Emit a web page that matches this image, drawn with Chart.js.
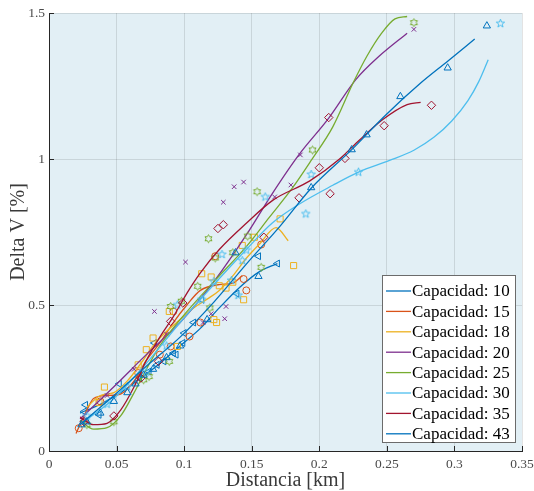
<!DOCTYPE html>
<html>
<head>
<meta charset="utf-8">
<script src="https://cdn.jsdelivr.net/npm/chart.js@4.4.1/dist/chart.umd.min.js"></script>
<style>
  html, body { margin: 0; padding: 0; background: #fff; }
  #wrap { width: 534px; height: 491px; }
</style>
</head>
<body>
<div id="wrap"><canvas id="chart" width="534" height="491"></canvas></div>
<script>
const capacities = [10, 15, 18, 20, 25, 30, 35, 43];
const colors = ["#0072BD", "#D95319", "#EDB120", "#7E2F8E", "#77AC30", "#4DBEEE", "#A2142F", "#0072BD"];

const xTicks = [0, 0.05, 0.1, 0.15, 0.2, 0.25, 0.3, 0.35];
const xTickLabels = ["0", "0.05", "0.1", "0.15", "0.2", "0.25", "0.3", "0.35"];
const yTicks = [0, 0.5, 1, 1.5];
const yTickLabels = ["0", "0.5", "1", "1.5"];

// medidas [distancia km, delta V %]
const pts10 = [[0.026,0.135],[0.027,0.158],[0.037,0.124],[0.052,0.23],[0.067,0.25],[0.074,0.272],[0.078,0.37],[0.080,0.295],[0.085,0.307],[0.092,0.335],[0.094,0.33],[0.099,0.37],[0.100,0.404],[0.107,0.44],[0.113,0.518],[0.139,0.539],[0.155,0.667],[0.169,0.642]];
const pts15 = [[0.022,0.078],[0.038,0.17],[0.066,0.267],[0.082,0.33],[0.090,0.358],[0.092,0.478],[0.104,0.392],[0.112,0.44],[0.123,0.667],[0.144,0.589],[0.146,0.55],[0.157,0.707]];
const pts18 = [[0.037,0.166],[0.041,0.219],[0.066,0.295],[0.072,0.347],[0.077,0.387],[0.089,0.478],[0.095,0.358],[0.113,0.607],[0.120,0.596],[0.122,0.45],[0.124,0.44],[0.126,0.566],[0.131,0.558],[0.136,0.578],[0.143,0.704],[0.144,0.518],[0.152,0.732],[0.171,0.795],[0.181,0.635]];
const pts20 = [[0.025,0.11],[0.043,0.19],[0.063,0.28],[0.078,0.478],[0.087,0.40],[0.101,0.647],[0.114,0.44],[0.120,0.47],[0.130,0.453],[0.131,0.495],[0.129,0.852],[0.137,0.905],[0.144,0.921],[0.167,0.870],[0.179,0.911],[0.186,1.014],[0.270,1.444]];
const pts25 = [[0.028,0.09],[0.048,0.1],[0.070,0.244],[0.074,0.255],[0.089,0.307],[0.090,0.495],[0.098,0.513],[0.110,0.564],[0.118,0.727],[0.119,0.49],[0.123,0.661],[0.136,0.679],[0.147,0.736],[0.154,0.888],[0.157,0.629],[0.195,1.031],[0.270,1.467]];
const pts30 = [[0.028,0.12],[0.043,0.16],[0.058,0.22],[0.072,0.27],[0.087,0.36],[0.095,0.50],[0.113,0.518],[0.122,0.58],[0.128,0.673],[0.135,0.584],[0.140,0.533],[0.143,0.652],[0.146,0.688],[0.160,0.870],[0.190,0.812],[0.194,0.947],[0.229,0.955],[0.334,1.464]];
const pts35 = [[0.026,0.1],[0.048,0.12],[0.068,0.25],[0.081,0.307],[0.090,0.444],[0.099,0.507],[0.125,0.762],[0.129,0.775],[0.159,0.732],[0.185,0.867],[0.200,0.970],[0.208,0.881],[0.207,1.142],[0.219,1.002],[0.248,1.114],[0.283,1.184]];
const pts43 = [[0.024,0.09],[0.028,0.1],[0.038,0.13],[0.048,0.17],[0.058,0.2],[0.064,0.23],[0.070,0.26],[0.077,0.28],[0.087,0.32],[0.097,0.36],[0.117,0.45],[0.138,0.679],[0.155,0.598],[0.194,0.902],[0.224,1.032],[0.235,1.083],[0.260,1.214],[0.295,1.312],[0.324,1.456]];

// curvas de ajuste
const fit10 = [[0.023,0.13],[0.038,0.16],[0.053,0.2],[0.068,0.25],[0.082,0.3],[0.097,0.36],[0.112,0.42],[0.126,0.49],[0.141,0.56],[0.156,0.615],[0.169,0.642]];
const fit15 = [[0.020,0.06],[0.028,0.14],[0.033,0.18],[0.043,0.19],[0.053,0.195],[0.063,0.24],[0.072,0.31],[0.082,0.37],[0.092,0.44],[0.102,0.5],[0.112,0.55],[0.126,0.57],[0.136,0.575],[0.143,0.60]];
const fit18 = [[0.028,0.15],[0.038,0.19],[0.048,0.2],[0.058,0.24],[0.068,0.3],[0.077,0.36],[0.087,0.41],[0.097,0.45],[0.107,0.49],[0.117,0.52],[0.126,0.55],[0.136,0.6],[0.146,0.66],[0.156,0.71],[0.168,0.765],[0.177,0.72]];
const fit20 = [[0.023,0.11],[0.048,0.22],[0.072,0.33],[0.097,0.44],[0.122,0.58],[0.146,0.74],[0.165,0.88],[0.185,1.015],[0.207,1.14],[0.227,1.272],[0.244,1.351],[0.265,1.431]];
const fit25 = [[0.023,0.105],[0.033,0.075],[0.043,0.08],[0.053,0.12],[0.063,0.2],[0.072,0.28],[0.082,0.36],[0.097,0.45],[0.122,0.58],[0.146,0.70],[0.163,0.80],[0.18,0.90],[0.194,0.995],[0.210,1.11],[0.225,1.26],[0.235,1.35],[0.246,1.43],[0.256,1.48],[0.265,1.488]];
const fit30 = [[0.023,0.09],[0.048,0.18],[0.072,0.3],[0.097,0.44],[0.122,0.57],[0.146,0.69],[0.165,0.78],[0.185,0.845],[0.21,0.91],[0.229,0.955],[0.252,0.995],[0.27,1.03],[0.285,1.075],[0.298,1.13],[0.31,1.2],[0.318,1.265],[0.325,1.34]];
const fit35 = [[0.023,0.115],[0.033,0.09],[0.043,0.095],[0.053,0.14],[0.063,0.22],[0.072,0.31],[0.082,0.39],[0.092,0.46],[0.102,0.54],[0.112,0.61],[0.126,0.69],[0.146,0.78],[0.166,0.86],[0.193,0.925],[0.215,1.0],[0.230,1.066],[0.247,1.135],[0.265,1.186],[0.275,1.194]];
const fit43 = [[0.023,0.09],[0.048,0.19],[0.072,0.29],[0.097,0.39],[0.122,0.51],[0.146,0.64],[0.171,0.77],[0.194,0.90],[0.224,1.032],[0.249,1.15],[0.275,1.26],[0.295,1.335],[0.315,1.411]];

const FONT = "'Liberation Serif', 'Times New Roman', serif";

// marcadores estrella dibujados a mano (hexagrama y pentagrama)
function starMarker(color, points, outer, inner) {
    let c = document.createElement("canvas");
    c.width = 11; c.height = 11;
    let g = c.getContext("2d");
    g.translate(5.5, 5.5);
    g.strokeStyle = color;
    g.lineWidth = 1;
    g.beginPath();
    for (let k = 0; k < points * 2; k++) {
        let r = k % 2 === 0 ? outer : inner;
        let a = -Math.PI / 2 + k * Math.PI / points;
        g.lineTo(r * Math.cos(a), r * Math.sin(a));
    }
    g.closePath();
    g.stroke();
    return c;
}

const series = [
    { pts: pts10, fit: fit10, style: "triangle", rot: -90, r: 4 },
    { pts: pts15, fit: fit15, style: "circle", rot: 0, r: 3.5 },
    { pts: pts18, fit: fit18, style: "rect", rot: 0, r: 4.3 },
    { pts: pts20, fit: fit20, style: "crossRot", rot: 0, r: 3.2 },
    { pts: pts25, fit: fit25, style: starMarker(colors[4], 6, 4, 2.3), rot: 0, r: 4 },
    { pts: pts30, fit: fit30, style: starMarker(colors[5], 5, 4.4, 1.8), rot: 0, r: 4 },
    { pts: pts35, fit: fit35, style: "rectRot", rot: 0, r: 4.2 },
    { pts: pts43, fit: fit43, style: "triangle", rot: 0, r: 4.2 }
];

const toXY = arr => arr.map(p => ({ x: p[0], y: p[1] }));

let datasets = [];
series.forEach((s, i) => {
    datasets.push({
        label: "pts" + capacities[i],
        data: toXY(s.pts),
        showLine: false,
        pointStyle: s.style,
        pointRotation: s.rot,
        pointRadius: s.r,
        pointBorderWidth: 1,
        pointBorderColor: colors[i],
        pointBackgroundColor: "rgba(0,0,0,0)",
        order: 100 - 2 * i
    });
    datasets.push({
        label: "Capacidad: " + capacities[i],
        data: toXY(s.fit),
        showLine: true,
        borderColor: colors[i],
        borderWidth: 1.3,
        pointRadius: 0,
        cubicInterpolationMode: "monotone",
        order: 99 - 2 * i
    });
});

// fondo del area de ejes
const plotBackground = {
    id: "plotBackground",
    beforeDraw(chart) {
        const { ctx, chartArea: a } = chart;
        ctx.save();
        ctx.fillStyle = "#e2eff5";
        ctx.fillRect(a.left, a.top, a.right - a.left, a.bottom - a.top);
        ctx.restore();
    }
};

// marcas de tick hacia dentro, estilo matlab
const innerTicks = {
    id: "innerTicks",
    afterDatasetsDraw(chart) {
        const { ctx, chartArea: a, scales } = chart;
        ctx.save();
        ctx.strokeStyle = "#262626";
        ctx.lineWidth = 1;
        ctx.beginPath();
        xTicks.forEach(v => {
            let px = Math.round(scales.x.getPixelForValue(v)) + 0.5;
            ctx.moveTo(px, a.bottom);
            ctx.lineTo(px, a.bottom - 5);
        });
        yTicks.forEach(v => {
            let py = Math.round(scales.y.getPixelForValue(v)) + 0.5;
            ctx.moveTo(a.left, py);
            ctx.lineTo(a.left + 5, py);
        });
        ctx.stroke();
        ctx.restore();
    }
};

// leyenda en caja, abajo a la derecha
const boxLegend = {
    id: "boxLegend",
    afterDraw(chart) {
        const ctx = chart.ctx;
        ctx.save();
        ctx.fillStyle = "#ffffff";
        ctx.fillRect(382.5, 275.5, 133, 167);
        ctx.strokeStyle = "#6b6b6b";
        ctx.lineWidth = 1;
        ctx.strokeRect(382.5, 275.5, 133, 167);
        ctx.font = "17px " + FONT;
        ctx.textBaseline = "middle";
        capacities.forEach((c, i) => {
            let y = 291 + i * 20.4;
            ctx.strokeStyle = colors[i];
            ctx.lineWidth = 1.3;
            ctx.beginPath();
            ctx.moveTo(386, y);
            ctx.lineTo(411, y);
            ctx.stroke();
            ctx.fillStyle = "#000";
            ctx.fillText("Capacidad: " + c, 412, y + 1);
        });
        ctx.restore();
    }
};

new Chart(document.getElementById("chart"), {
    type: "scatter",
    data: { datasets: datasets },
    options: {
        responsive: false,
        animation: false,
        layout: { padding: { top: 13, right: 12, left: 0, bottom: 0 } },
        plugins: { legend: { display: false }, tooltip: { enabled: false } },
        scales: {
            x: {
                type: "linear",
                min: 0,
                max: 0.35,
                afterBuildTicks: s => { s.ticks = xTicks.map(v => ({ value: v })); },
                afterFit: s => { s.height = 40; s.paddingLeft = 0; s.paddingRight = 0; },
                grid: { color: "rgba(38,38,38,0.13)", drawTicks: false },
                border: { color: "#262626", width: 1 },
                ticks: {
                    padding: 5,
                    color: "#4a4a4a",
                    maxRotation: 0,
                    autoSkip: false,
                    font: { family: FONT, size: 13.5 },
                    callback: (v, i) => xTickLabels[i]
                },
                title: {
                    display: true,
                    text: "Distancia [km]",
                    color: "#3a3a3a",
                    padding: 0,
                    font: { family: FONT, size: 20, lineHeight: 1 }
                }
            },
            y: {
                type: "linear",
                min: 0,
                max: 1.5,
                afterBuildTicks: s => { s.ticks = yTicks.map(v => ({ value: v })); },
                afterFit: s => { s.width = 49; s.paddingTop = 0; s.paddingBottom = 0; },
                grid: { color: "rgba(38,38,38,0.13)", drawTicks: false },
                border: { color: "#262626", width: 1 },
                ticks: {
                    padding: 4,
                    color: "#4a4a4a",
                    autoSkip: false,
                    font: { family: FONT, size: 13.5 },
                    callback: (v, i) => yTickLabels[i]
                },
                title: {
                    display: true,
                    text: "Delta V [%]",
                    color: "#3a3a3a",
                    padding: { top: 9, bottom: 0 },
                    font: { family: FONT, size: 20, lineHeight: 1 }
                }
            }
        }
    },
    plugins: [plotBackground, innerTicks, boxLegend]
});
</script>
</body>
</html>
